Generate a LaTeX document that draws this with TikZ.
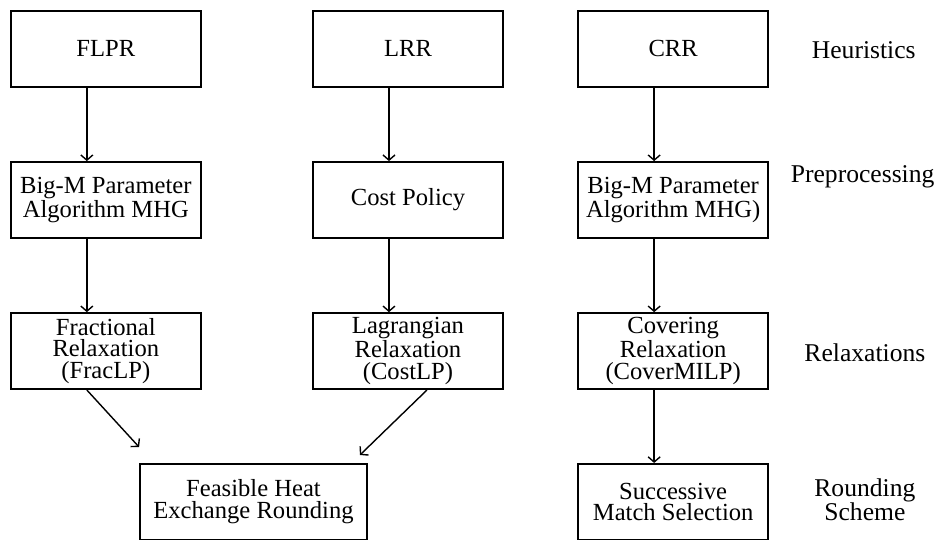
\documentclass[tikz,border=0pt]{standalone}
\usepackage{fontspec}
\setmainfont{Liberation Serif}
\usepackage{tikz}
\usetikzlibrary{calc,arrows.meta}
\tikzset{
  box/.style={draw, line width=0.9pt, minimum width=3.34cm, minimum height=1.336cm,
    align=center, inner sep=1pt, font=\fontsize{12.3}{10.8}\selectfont},
  lab/.style={align=center, font=\fontsize{12.8}{12}\selectfont},
  arr/.style={-{Straight Barb[length=2.6pt,width=6pt]}, line width=0.7pt},
}

\begin{document}
\begin{tikzpicture}
  \useasboundingbox (0,0) rectangle (16.59,9.49);

  % heuristics
  \node[box] (flpr) at (1.86,8.63) {FLPR};
  \node[box] (lrr)  at (7.17,8.63) {LRR};
  \node[box] (crr)  at (11.83,8.63) {CRR};

  % preprocessing
  \node[box] (bigmA) at (1.86,5.975) {Big-M Parameter\\Algorithm MHG};
  \node[box] (cost)  at (7.17,5.975) {Cost Policy};
  \node[box] (bigmB) at (11.83,5.975) {Big-M Parameter\\Algorithm MHG)};

  % relaxations
  \node[box] (frac)  at (1.86,3.32) {Fractional\\Relaxation\\(FracLP)};
  \node[box] (lagr)  at (7.17,3.32) {Lagrangian\\Relaxation\\(CostLP)};
  \node[box] (cover) at (11.83,3.32) {Covering\\Relaxation\\(CoverMILP)};

  % rounding
  \node[box, minimum width=3.99cm] (feas) at (4.455,0.67) {Feasible Heat\\Exchange Rounding};
  \node[box] (succ) at (11.83,0.67) {Successive\\Match Selection};

  % row labels
  \node[lab] (hlab) at (15.18,8.61) {Heuristics};
  \node[lab] (plab) at (15.16,6.38) {Preprocessing};
  \node[lab] (rlab) at (15.2,3.29) {Relaxations};
  \node[lab] (slab) at (15.2,0.70) {Rounding\\Scheme};

  \coordinate (inL) at ($(feas.north west)+(0,0.28)$);
  \coordinate (inR) at ($(feas.north east)+(-0.14,0.14)$);

  \draw[arr] ([xshift=-0.334cm]flpr.south) -- ([xshift=-0.334cm]bigmA.north);
  \draw[arr] ([xshift=-0.334cm]bigmA.south) -- ([xshift=-0.334cm]frac.north);
  \draw[arr] ([xshift=-0.334cm]lrr.south) -- ([xshift=-0.334cm]cost.north);
  \draw[arr] ([xshift=-0.334cm]cost.south) -- ([xshift=-0.334cm]lagr.north);
  \draw[arr] ([xshift=-0.334cm]crr.south) -- ([xshift=-0.334cm]bigmB.north);
  \draw[arr] ([xshift=-0.334cm]bigmB.south) -- ([xshift=-0.334cm]cover.north);
  \draw[arr] ([xshift=-0.334cm]cover.south) -- ([xshift=-0.334cm]succ.north);

  \draw[arr] ([xshift=-0.334cm]frac.south) -- (inL);
  \draw[arr] ([xshift=0.334cm]lagr.south) -- (inR);
\end{tikzpicture}
\end{document}
